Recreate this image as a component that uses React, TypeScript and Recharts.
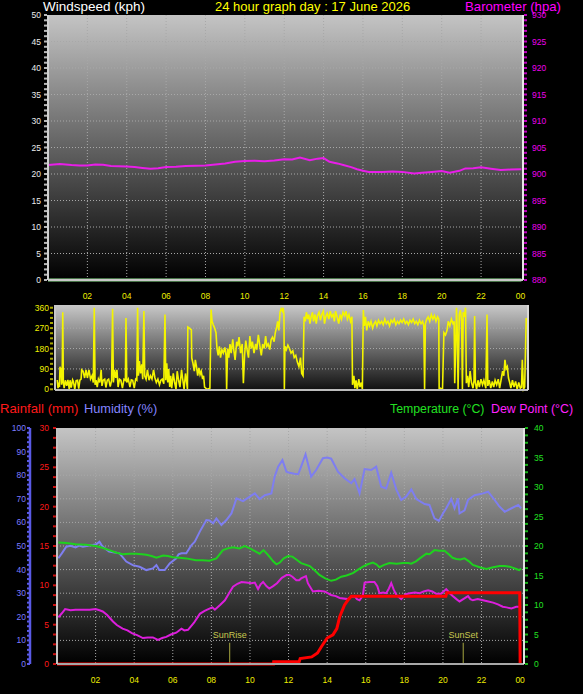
import { CartesianGrid, Line, LineChart, ReferenceLine, XAxis, YAxis } from 'recharts';

type Pt = [number, number];

// axis ticks
const hourTicks = [2, 4, 6, 8, 10, 12, 14, 16, 18, 20, 22, 24];
const gridHours = [2, 4, 6, 8, 10, 12, 14, 16, 18, 20, 22];
const windTicks = [0, 5, 10, 15, 20, 25, 30, 35, 40, 45, 50];
const baroTicks = [880, 885, 890, 895, 900, 905, 910, 915, 920, 925, 930];
const dirTicks = [0, 90, 180, 270, 360];
const compassLabels = ['N', 'E', 'S', 'W', 'N'];
const humidityTicks = [0, 10, 20, 30, 40, 50, 60, 70, 80, 90, 100];
const rainTicks = [0, 5, 10, 15, 20, 25, 30];
const tempTicks = [0, 5, 10, 15, 20, 25, 30, 35, 40];

// series: [hour, value]
const windSpeed: Pt[] = [[0, 0], [24.05, 0]];

const barometer: Pt[] = [
  [0, 901.7], [0.6, 901.9], [1.2, 901.7], [1.6, 901.6], [2.0, 901.6], [2.4, 901.8], [2.8, 901.75],
  [3.2, 901.5], [3.6, 901.45], [4.0, 901.4], [4.4, 901.3], [4.8, 901.15], [5.2, 901.0], [5.6, 901.1],
  [6.0, 901.3], [6.5, 901.35], [7.0, 901.5], [7.5, 901.55], [8.0, 901.6], [8.5, 901.8], [9.0, 902.0],
  [9.5, 902.3], [10.0, 902.45], [10.5, 902.5], [11.0, 902.4], [11.5, 902.55], [12.0, 902.8],
  [12.4, 902.75], [12.8, 903.1], [13.3, 902.6], [13.7, 902.9], [14.0, 903.0], [14.3, 902.3],
  [14.7, 902.0], [15.0, 901.7], [15.4, 901.3], [15.7, 900.9], [16.0, 900.6], [16.3, 900.4],
  [17.0, 900.4], [17.5, 900.45], [18.0, 900.4], [18.6, 900.1], [19.0, 900.25], [19.5, 900.4],
  [20.0, 900.55], [20.4, 900.25], [20.9, 900.6], [21.2, 901.05], [21.6, 901.1], [22.0, 901.25],
  [22.5, 901.0], [23.0, 900.75], [23.5, 900.85], [24.05, 900.9],
];

const windDirection: Pt[] = [
  [0.49, 41], [0.53, 5], [0.56, 30], [0.6, 10], [0.63, 100], [0.66, 60], [0.68, 95], [0.71, 20],
  [0.74, 45], [0.77, 340], [0.8, 30], [0.84, 5], [0.9, 40], [0.97, 15], [1.03, 42], [1.1, 0],
  [1.14, 40], [1.2, 8], [1.27, 42], [1.31, 35], [1.38, 0], [1.45, 38], [1.52, 40], [1.58, 3],
  [1.64, 40], [1.7, 45], [1.73, 86], [1.8, 80], [1.88, 50], [1.95, 86], [2.02, 50], [2.1, 86],
  [2.18, 45], [2.26, 60], [2.32, 30], [2.37, 360], [2.41, 20], [2.46, 40], [2.52, 10], [2.58, 45],
  [2.65, 30], [2.72, 86], [2.76, 15], [2.82, 40], [2.9, 45], [2.96, 8], [3.03, 40], [3.1, 45],
  [3.18, 12], [3.25, 40], [3.3, 355], [3.34, 30], [3.4, 86], [3.46, 50], [3.52, 86], [3.58, 10],
  [3.65, 45], [3.72, 40], [3.8, 5], [3.88, 45], [3.95, 40], [3.98, 315], [4.02, 30], [4.1, 45],
  [4.18, 10], [4.25, 42], [4.32, 40], [4.4, 5], [4.47, 45], [4.53, 40], [4.57, 360], [4.61, 60],
  [4.66, 125], [4.72, 70], [4.78, 110], [4.83, 45], [4.89, 345], [4.93, 60], [5.0, 45], [5.07, 86],
  [5.15, 40], [5.22, 60], [5.3, 45], [5.38, 86], [5.45, 50], [5.52, 30], [5.6, 45], [5.68, 20],
  [5.75, 40], [5.82, 45], [5.9, 25], [5.96, 330], [6.0, 40], [6.05, 115], [6.1, 30], [6.15, 90],
  [6.2, 10], [6.25, 60], [6.3, 5], [6.38, 70], [6.45, 30], [6.52, 0], [6.58, 80], [6.65, 40],
  [6.72, 10], [6.8, 86], [6.86, 45], [6.93, 0], [7.0, 70], [7.06, 30], [7.1, 0], [7.12, 275],
  [7.2, 270], [7.3, 262], [7.32, 138], [7.38, 115], [7.45, 80], [7.5, 130], [7.56, 100], [7.62, 60],
  [7.68, 95], [7.74, 65], [7.8, 80], [7.87, 45], [7.92, 60], [7.97, 10], [8.1, 0], [8.24, 5],
  [8.3, 352], [8.35, 300], [8.41, 285], [8.48, 270], [8.55, 250], [8.6, 180], [8.66, 150],
  [8.72, 190], [8.78, 140], [8.85, 175], [8.92, 160], [9.0, 185], [9.06, 150], [9.09, 0],
  [9.14, 180], [9.2, 140], [9.26, 200], [9.32, 160], [9.4, 220], [9.46, 170], [9.52, 130],
  [9.6, 210], [9.66, 190], [9.72, 230], [9.8, 160], [9.88, 200], [9.94, 27], [10.0, 150],
  [10.06, 215], [10.12, 180], [10.2, 140], [10.27, 235], [10.34, 180], [10.4, 210], [10.48, 160],
  [10.56, 200], [10.62, 175], [10.7, 240], [10.78, 190], [10.85, 150], [10.92, 200], [11.0, 180],
  [11.07, 235], [11.13, 190], [11.2, 200], [11.28, 175], [11.35, 220], [11.42, 230], [11.5, 210],
  [11.56, 250], [11.63, 275], [11.68, 300], [11.74, 260], [11.8, 340], [11.86, 355], [11.92, 345],
  [11.96, 360], [12.0, 330], [12.02, 0], [12.05, 190], [12.12, 175], [12.2, 195], [12.28, 180],
  [12.36, 160], [12.45, 170], [12.52, 140], [12.6, 150], [12.68, 120], [12.76, 100], [12.84, 140],
  [12.9, 70], [12.97, 60], [13.02, 320], [13.08, 300], [13.14, 340], [13.2, 310], [13.26, 330],
  [13.32, 290], [13.38, 320], [13.45, 340], [13.5, 300], [13.58, 330], [13.64, 290], [13.7, 325],
  [13.78, 340], [13.85, 305], [13.92, 330], [14.0, 345], [14.06, 290], [14.12, 320], [14.2, 335],
  [14.28, 310], [14.35, 345], [14.42, 320], [14.5, 330], [14.56, 300], [14.62, 345], [14.7, 320],
  [14.78, 290], [14.85, 330], [14.92, 310], [15.0, 340], [15.08, 325], [15.15, 345], [15.22, 310],
  [15.3, 330], [15.38, 300], [15.45, 320], [15.48, 20], [15.55, 60], [15.6, 5], [15.66, 40],
  [15.72, 0], [15.8, 45], [15.86, 10], [15.93, 30], [15.98, 0], [16.03, 350], [16.08, 280],
  [16.14, 320], [16.2, 260], [16.28, 300], [16.35, 280], [16.42, 300], [16.5, 270], [16.58, 290],
  [16.65, 300], [16.72, 280], [16.8, 305], [16.88, 290], [16.96, 300], [17.04, 285], [17.12, 310],
  [17.2, 290], [17.28, 300], [17.36, 280], [17.44, 305], [17.52, 295], [17.6, 310], [17.68, 285],
  [17.76, 300], [17.84, 290], [17.92, 305], [18.0, 295], [18.08, 310], [18.16, 290], [18.24, 300],
  [18.32, 285], [18.4, 305], [18.48, 295], [18.56, 310], [18.64, 290], [18.72, 300], [18.8, 285],
  [18.88, 305], [18.96, 290], [19.04, 300], [19.1, 280], [19.14, 0], [19.18, 290], [19.25, 310],
  [19.32, 320], [19.4, 300], [19.48, 330], [19.56, 310], [19.64, 325], [19.72, 300], [19.8, 320],
  [19.86, 310], [19.88, 0], [19.95, 5], [20.05, 0], [20.12, 250], [20.2, 240], [20.28, 260],
  [20.34, 300], [20.42, 280], [20.5, 310], [20.58, 290], [20.64, 300], [20.67, 27], [20.72, 200],
  [20.76, 360], [20.8, 250], [20.84, 0], [20.9, 330], [20.96, 350], [21.02, 300], [21.06, 0],
  [21.1, 340], [21.16, 320], [21.22, 360], [21.26, 27], [21.32, 60], [21.38, 10], [21.45, 80],
  [21.52, 30], [21.6, 5], [21.65, 40], [21.68, 323], [21.72, 30], [21.78, 0], [21.85, 40],
  [21.92, 10], [22.0, 45], [22.08, 20], [22.15, 40], [22.25, 5], [22.31, 330], [22.35, 15],
  [22.42, 40], [22.5, 5], [22.58, 35], [22.65, 10], [22.72, 40], [22.8, 20], [22.88, 45], [22.95, 5],
  [23.02, 40], [23.1, 80], [23.16, 60], [23.22, 130], [23.28, 90], [23.34, 100], [23.4, 50],
  [23.46, 30], [23.52, 5], [23.6, 40], [23.68, 10], [23.76, 35], [23.84, 0], [23.92, 30], [24.0, 5],
  [24.06, 10], [24.1, 130], [24.16, 0], [24.22, 10], [24.3, 315],
];

const humidity: Pt[] = [
  [0.07, 44.8], [0.25, 46.9], [0.48, 49.7], [0.7, 50.1], [0.96, 49.4], [1.15, 50.2], [1.34, 49.7],
  [1.6, 50.1], [1.86, 50.4], [2.05, 50.8], [2.2, 51.8], [2.3, 50.5], [2.38, 49.7], [2.7, 47.6],
  [3.0, 47.2], [3.24, 46.9], [3.59, 43.4], [3.93, 41.9], [4.28, 41.2], [4.63, 39.8], [4.97, 40.5],
  [5.15, 41.9], [5.3, 39.8], [5.58, 39.8], [5.84, 42.6], [6.18, 44.8], [6.3, 46.5], [6.45, 46.9],
  [6.7, 46.9], [6.97, 50.4], [7.14, 51.8], [7.4, 56.1], [7.74, 61], [7.9, 60.8], [8.09, 59.6],
  [8.26, 61.7], [8.52, 58.9], [8.78, 61], [9.04, 63.8], [9.3, 70.2], [9.64, 69], [9.99, 70.9],
  [10.25, 72.3], [10.5, 69.9], [10.77, 71.5], [11.11, 72.3], [11.28, 79.4], [11.46, 83.6],
  [11.68, 86.4], [11.89, 81.5], [12.05, 81], [12.3, 80.6], [12.5, 80.4], [12.65, 83.6],
  [12.88, 88.8], [13.0, 85], [13.17, 79.4], [13.43, 82.2], [13.78, 87.2], [14.0, 87.5], [14.21, 87],
  [14.56, 81.5], [14.9, 78.7], [15.25, 76.6], [15.42, 78.4], [15.68, 72.3], [15.94, 82.6],
  [16.28, 82.2], [16.54, 83.6], [16.8, 75.1], [17.06, 74.4], [17.32, 81], [17.58, 74], [17.84, 69.5],
  [18.1, 71], [18.36, 74], [18.62, 69.9], [19.05, 67.8], [19.3, 67.4], [19.56, 61.7], [19.79, 60.6],
  [20.0, 63.8], [20.17, 66], [20.43, 69.9], [20.6, 66], [20.78, 70.2], [20.86, 63.8], [21.12, 65.1],
  [21.3, 69.5], [21.64, 71.5], [22.08, 72.3], [22.34, 73], [22.68, 69.5], [22.9, 67], [23.2, 64.5],
  [23.55, 66], [23.9, 67.4], [24.05, 66],
];

const temperature: Pt[] = [
  [0.07, 20.6], [0.5, 20.5], [0.96, 20.3], [1.5, 20.2], [2.0, 20.0], [2.35, 19.7], [2.7, 19.3],
  [3.05, 18.9], [3.4, 18.6], [3.75, 18.7], [4.1, 18.7], [4.4, 18.6], [4.63, 18.5], [4.9, 18.3],
  [5.15, 18.0], [5.5, 18.4], [5.75, 18.3], [6.0, 18.1], [6.35, 18.0], [6.7, 17.9], [7.2, 17.6],
  [7.55, 17.6], [7.9, 17.5], [8.26, 17.9], [8.6, 19.3], [8.85, 19.6], [9.12, 19.8], [9.45, 19.6],
  [9.73, 20.0], [10.0, 19.6], [10.16, 19.3], [10.5, 18.7], [10.7, 19.3], [10.85, 18.8], [11.03, 18.1],
  [11.2, 17.4], [11.37, 16.9], [11.55, 17.2], [11.75, 17.9], [11.98, 18.3], [12.2, 18.2],
  [12.4, 17.7], [12.65, 17.1], [13.1, 16.6], [13.35, 15.9], [13.6, 15.1], [13.9, 14.5], [14.21, 14.1],
  [14.45, 14.3], [14.73, 14.8], [15.0, 15.0], [15.33, 15.4], [15.6, 16.0], [15.85, 16.5],
  [16.1, 16.9], [16.37, 17.2], [16.55, 16.9], [16.71, 16.4], [16.95, 16.8], [17.23, 17.1],
  [17.6, 17.0], [17.93, 17.1], [18.2, 17.1], [18.36, 17.0], [18.6, 17.4], [18.8, 17.9], [19.14, 18.7],
  [19.3, 18.6], [19.56, 19.3], [19.8, 19.2], [20.08, 19.2], [20.3, 18.6], [20.5, 18.0], [20.69, 17.8],
  [20.9, 17.7], [21.12, 17.9], [21.35, 17.4], [21.55, 16.8], [21.9, 16.4], [22.25, 16.1],
  [22.6, 16.4], [22.94, 16.6], [23.2, 16.6], [23.46, 16.5], [23.8, 16.1], [23.95, 15.9], [24.05, 16.2],
];

const dewPoint: Pt[] = [
  [0.07, 7.9], [0.25, 8.6], [0.42, 9.3], [0.7, 9.1], [0.96, 9.2], [1.4, 9.2], [1.7, 9.2], [2.0, 9.3],
  [2.2, 9.1], [2.37, 8.9], [2.6, 8.3], [2.9, 7.2], [3.1, 6.6], [3.4, 6.0], [3.65, 5.7], [3.9, 5.2],
  [4.15, 4.9], [4.45, 4.4], [4.7, 4.5], [4.97, 4.5], [5.23, 4.1], [5.45, 4.4], [5.66, 4.6], [5.9, 5.0],
  [6.18, 5.3], [6.45, 6.0], [6.6, 5.7], [6.79, 5.8], [7.1, 7.0], [7.4, 8.5], [7.65, 9.0], [7.9, 9.4],
  [8.05, 9.6], [8.18, 9.2], [8.45, 10.0], [8.7, 10.8], [8.9, 11.9], [9.12, 13.1], [9.35, 13.6],
  [9.56, 13.9], [9.8, 13.8], [10.08, 13.7], [10.25, 13.8], [10.42, 12.7], [10.55, 13.5],
  [10.68, 13.9], [10.85, 13.2], [11.0, 12.8], [11.2, 13.2], [11.4, 13.7], [11.65, 14.6], [11.9, 15.1],
  [12.05, 15.1], [12.2, 14.8], [12.4, 14.2], [12.55, 14.2], [12.65, 14.5], [12.9, 14.9], [13.0, 13.7],
  [13.26, 12.3], [13.55, 12.4], [13.87, 12.3], [14.2, 11.7], [14.45, 11.5], [14.65, 11.2],
  [15.07, 11.0], [15.25, 11.4], [15.42, 11.5], [15.55, 11.0], [15.68, 10.8], [15.85, 11.6],
  [15.94, 13.8], [16.2, 13.9], [16.45, 13.9], [16.6, 13.2], [16.71, 12.0], [16.9, 12.1], [17.06, 12.0],
  [17.2, 12.8], [17.32, 13.7], [17.45, 12.6], [17.58, 11.7], [17.84, 11.0], [18.05, 11.8],
  [18.28, 12.0], [18.55, 12.1], [18.8, 12.0], [19.0, 12.3], [19.23, 12.5], [19.45, 12.3],
  [19.65, 11.9], [19.9, 11.9], [20.17, 12.7], [20.35, 12.0], [20.52, 11.5], [20.7, 11.0],
  [20.86, 10.6], [21.05, 11.0], [21.3, 11.5], [21.42, 11.0], [21.55, 10.8], [21.8, 11.0],
  [22.08, 10.8], [22.35, 10.6], [22.6, 10.4], [22.85, 10.1], [23.1, 9.7], [23.3, 9.6], [23.55, 9.4],
  [23.8, 9.7], [24.05, 9.7],
];

const rainfall: Pt[] = [
  [0, 0], [11.22, 0], [11.23, 0.3], [12.55, 0.3], [12.6, 0.7], [13.2, 0.9], [13.5, 1.4], [13.7, 2.2],
  [14.0, 3.3], [14.3, 3.7], [14.5, 4.5], [14.65, 6.0], [14.9, 7.5], [15.07, 8.1], [15.25, 8.6],
  [20.15, 8.6], [20.2, 9.06], [23.98, 9.06], [24.0, 0],
];

const sunRise = 8.95;
const sunSet = 21.05;

const FONT = '"Liberation Sans", Arial, sans-serif';

const toRows = (pts: Pt[]) => pts.map(([h, v]) => ({ h, v }));

function withMinors(majors: number[], step: number): number[] {
  const out: number[] = [];
  const lo = majors[0];
  const hi = majors[majors.length - 1];
  for (let v = lo; v <= hi + 1e-9; v += step) out.push(Math.round(v * 1000) / 1000);
  return out;
}

interface TickCfg {
  side: 'left' | 'right';
  color: string;
  markColor: string;
  majors: number[];
  markFrom: number;
  markTo: number;
  labelGap: number;
  fontSize?: number;
  format?: (v: number) => string;
  anchor?: 'start' | 'middle' | 'end';
}

function sideTick(cfg: TickCfg) {
  return (props: any) => {
    const { x, y, payload } = props;
    const v = payload.value as number;
    const major = cfg.majors.includes(v);
    const d = cfg.side === 'left' ? -1 : 1;
    const anchor = cfg.anchor ?? (cfg.side === 'left' ? 'end' : 'start');
    return (
      <g>
        {cfg.markTo > cfg.markFrom && (
          <line x1={x + d * cfg.markFrom} x2={x + d * cfg.markTo} y1={y} y2={y} stroke={cfg.markColor} strokeWidth={2} />
        )}
        {major && (
          <text x={x + d * cfg.labelGap} y={y} dy={cfg.fontSize ? cfg.fontSize * 0.36 : 3} textAnchor={anchor}
            fill={cfg.color} fontSize={cfg.fontSize ?? 8.5} fontFamily={FONT}>
            {cfg.format ? cfg.format(v) : v}
          </text>
        )}
      </g>
    );
  };
}

function hourTick(offset: number) {
  return (props: any) => {
    const { x, y, payload } = props;
    const h = payload.value as number;
    return (
      <text x={x} y={y + offset} textAnchor="middle" fill="#eeee00" fontSize={8.5} fontFamily={FONT}>
        {String(h % 24).padStart(2, '0')}
      </text>
    );
  };
}

function Gradient({ id, top, bottom }: { id: string; top: string; bottom: string }) {
  return (
    <defs>
      <linearGradient id={id} x1="0" y1="0" x2="0" y2="1">
        <stop offset="0%" stopColor={top} />
        <stop offset="100%" stopColor={bottom} />
      </linearGradient>
    </defs>
  );
}

const gridStroke = '#a8a8a8';

function Title({ left, top, color, size, children }: { left: number; top: number; color: string; size: number; children: string }) {
  return (
    <div style={{ position: 'absolute', left, top, color, fontSize: size, lineHeight: '14px', fontFamily: FONT, whiteSpace: 'nowrap' }}>
      {children}
    </div>
  );
}

export default function App() {
  return (
    <div style={{ position: 'absolute', left: 0, top: 0, width: 583, height: 694, background: '#000', overflow: 'hidden' }}>
      {/* wind speed + barometer */}
      <div style={{ position: 'absolute', left: 0, top: 0 }}>
        <LineChart width={583} height={300} margin={{ top: 15, right: 0, bottom: 0, left: 0 }}>
          <Gradient id="bgTop" top="#c4c4c4" bottom="#000000" />
          <CartesianGrid yAxisId="wind" xAxisId="h" fill="url(#bgTop)" stroke={gridStroke} strokeDasharray="1 2"
            horizontalValues={windTicks.slice(1, -1)} verticalValues={gridHours} />
          <XAxis xAxisId="h" type="number" dataKey="h" domain={[0, 24.13]} ticks={hourTicks} interval={0}
            height={20} tickSize={0} tickMargin={0} tickLine={false} tick={hourTick(18.5)}
            axisLine={{ stroke: '#c8c8c8', strokeWidth: 2 }} />
          <YAxis yAxisId="wind" orientation="left" width={48} domain={[0, 50]} ticks={withMinors(windTicks, 1)}
            interval={0} tickSize={0} tickMargin={0} tickLine={false} axisLine={{ stroke: '#d0d0d0', strokeWidth: 2 }}
            tick={sideTick({ side: 'left', color: '#ececec', markColor: '#b8b8b8', majors: windTicks, markFrom: 1, markTo: 4, labelGap: 7 })} />
          <YAxis yAxisId="baro" orientation="right" width={60} domain={[880, 930]} ticks={withMinors(baroTicks, 1)}
            interval={0} tickSize={0} tickMargin={0} tickLine={false} axisLine={{ stroke: '#e8e8e8', strokeWidth: 2 }}
            tick={sideTick({ side: 'right', color: '#ee00ee', markColor: '#c000c0', majors: baroTicks, markFrom: 1, markTo: 4, labelGap: 9 })} />
          <Line xAxisId="h" yAxisId="wind" data={toRows(windSpeed)} dataKey="v" stroke="#90e890" strokeWidth={3}
            dot={false} isAnimationActive={false} />
          <Line xAxisId="h" yAxisId="baro" data={toRows(barometer)} dataKey="v" stroke="#e81ee8" strokeWidth={2}
            dot={false} isAnimationActive={false} />
        </LineChart>
      </div>

      <Title left={43} top={0} color="#ffffff" size={13.5}>Windspeed (kph)</Title>
      <Title left={215} top={0} color="#ffff00" size={13}>24 hour graph day : 17 June 2026</Title>
      <Title left={465} top={0} color="#ff00ff" size={13.2}>Barometer (hpa)</Title>

      {/* wind direction */}
      <div style={{ position: 'absolute', left: 0, top: 300 }}>
        <LineChart width={583} height={100} margin={{ top: 5, right: 0, bottom: 8, left: 0 }}>
          <Gradient id="bgMid" top="#c8c8c8" bottom="#101010" />
          <CartesianGrid yAxisId="dir" xAxisId="h" fill="url(#bgMid)" stroke={gridStroke} strokeDasharray="1 2"
            horizontalValues={[90, 180, 270]} vertical={false} />
          <XAxis xAxisId="h" type="number" dataKey="h" domain={[0.376, 24.39]} height={2} tick={false}
            tickLine={false} axisLine={{ stroke: '#bcbcbc', strokeWidth: 2 }} />
          <YAxis yAxisId="dir" orientation="left" width={55} domain={[-3, 372]} ticks={withMinors(dirTicks, 22.5)}
            interval={0} tickSize={0} tickMargin={0} tickLine={false} axisLine={{ stroke: '#c8c8c8', strokeWidth: 2 }}
            tick={sideTick({ side: 'left', color: '#f0f000', markColor: '#a8a800', majors: dirTicks, markFrom: 2, markTo: 5, labelGap: 6 })} />
          <YAxis yAxisId="compass" orientation="right" width={55} domain={[-3, 372]} ticks={dirTicks}
            interval={0} tickSize={0} tickMargin={0} tickLine={false} axisLine={{ stroke: '#d8d8d8', strokeWidth: 2 }}
            tick={sideTick({
              side: 'right', color: '#f0f000', markColor: '#f0f000', majors: dirTicks, markFrom: 0, markTo: 0,
              labelGap: 21, fontSize: 12.5, anchor: 'middle', format: (v) => compassLabels[dirTicks.indexOf(v)],
            })} />
          <Line xAxisId="h" yAxisId="dir" data={toRows(windDirection)} dataKey="v" stroke="#f4f400" strokeWidth={1.6}
            dot={false} isAnimationActive={false} />
        </LineChart>
      </div>

      <Title left={0} top={402} color="#ff1a1a" size={13.2}>Rainfall (mm)</Title>
      <Title left={84} top={402} color="#8484ff" size={12.8}>Humidity (%)</Title>
      <Title left={390} top={402} color="#22e022" size={12.3}>Temperature (°C)</Title>
      <Title left={491} top={402} color="#ff22ff" size={12.4}>Dew Point (°C)</Title>

      {/* rain, humidity, temperature, dew point — axis ids order the two left axes (a = inner, b = outer) */}
      <div style={{ position: 'absolute', left: 0, top: 420 }}>
        <LineChart width={583} height={274} margin={{ top: 8, right: 0, bottom: 0, left: 0 }}>
          <Gradient id="bgBot" top="#c4c4c4" bottom="#000000" />
          <CartesianGrid yAxisId="bHum" xAxisId="h" fill="url(#bgBot)" stroke={gridStroke} strokeDasharray="1 2"
            horizontalValues={humidityTicks.slice(1, -1)} verticalValues={gridHours} />
          <XAxis xAxisId="h" type="number" dataKey="h" domain={[0, 24.2]} ticks={hourTicks} interval={0}
            height={30} tickSize={0} tickMargin={0} tickLine={false} tick={hourTick(18.5)}
            axisLine={{ stroke: '#a8a8a8', strokeWidth: 2 }} />
          <YAxis yAxisId="aRain" orientation="left" width={27} domain={[0, 30]} ticks={withMinors(rainTicks, 1.25)}
            interval={0} tickSize={0} tickMargin={0} tickLine={false} axisLine={{ stroke: '#c4c4c4', strokeWidth: 2 }}
            tick={sideTick({ side: 'left', color: '#ff1a1a', markColor: '#cc1010', majors: rainTicks, markFrom: 1, markTo: 4, labelGap: 8 })} />
          <YAxis yAxisId="bHum" orientation="left" width={30} domain={[0, 100]} ticks={withMinors(humidityTicks, 2)}
            interval={0} tickSize={0} tickMargin={0} tickLine={false} axisLine={{ stroke: '#5a5ae6', strokeWidth: 2.5 }}
            tick={sideTick({ side: 'left', color: '#7c7cff', markColor: '#5a5ae6', majors: humidityTicks, markFrom: 0, markTo: 3, labelGap: 4 })} />
          <YAxis yAxisId="temp" orientation="right" width={59} domain={[0, 40]} ticks={withMinors(tempTicks, 1.25)}
            interval={0} tickSize={0} tickMargin={0} tickLine={false} axisLine={{ stroke: '#e4e4e4', strokeWidth: 2 }}
            tick={sideTick({ side: 'right', color: '#22e022', markColor: '#18b018', majors: tempTicks, markFrom: 1, markTo: 4, labelGap: 10 })} />
          <ReferenceLine xAxisId="h" yAxisId="aRain" segment={[{ x: sunRise, y: 0 }, { x: sunRise, y: 2.7 }]}
            stroke="#a8a840" strokeWidth={1}
            label={{ value: 'SunRise', position: 'top', fill: '#c8c850', fontSize: 9, fontFamily: FONT }} />
          <ReferenceLine xAxisId="h" yAxisId="aRain" segment={[{ x: sunSet, y: 0 }, { x: sunSet, y: 2.7 }]}
            stroke="#a8a840" strokeWidth={1}
            label={{ value: 'SunSet', position: 'top', fill: '#c8c850', fontSize: 9, fontFamily: FONT }} />
          <Line xAxisId="h" yAxisId="bHum" data={toRows(humidity)} dataKey="v" stroke="#7e7ef0" strokeWidth={2}
            dot={false} isAnimationActive={false} />
          <Line xAxisId="h" yAxisId="temp" data={toRows(temperature)} dataKey="v" stroke="#1ed21e" strokeWidth={2}
            dot={false} isAnimationActive={false} />
          <Line xAxisId="h" yAxisId="temp" data={toRows(dewPoint)} dataKey="v" stroke="#dc1edc" strokeWidth={2}
            dot={false} isAnimationActive={false} />
          <Line xAxisId="h" yAxisId="aRain" data={toRows(rainfall)} dataKey="v" stroke="#ff0000" strokeWidth={3}
            dot={false} isAnimationActive={false} />
        </LineChart>
      </div>
    </div>
  );
}
